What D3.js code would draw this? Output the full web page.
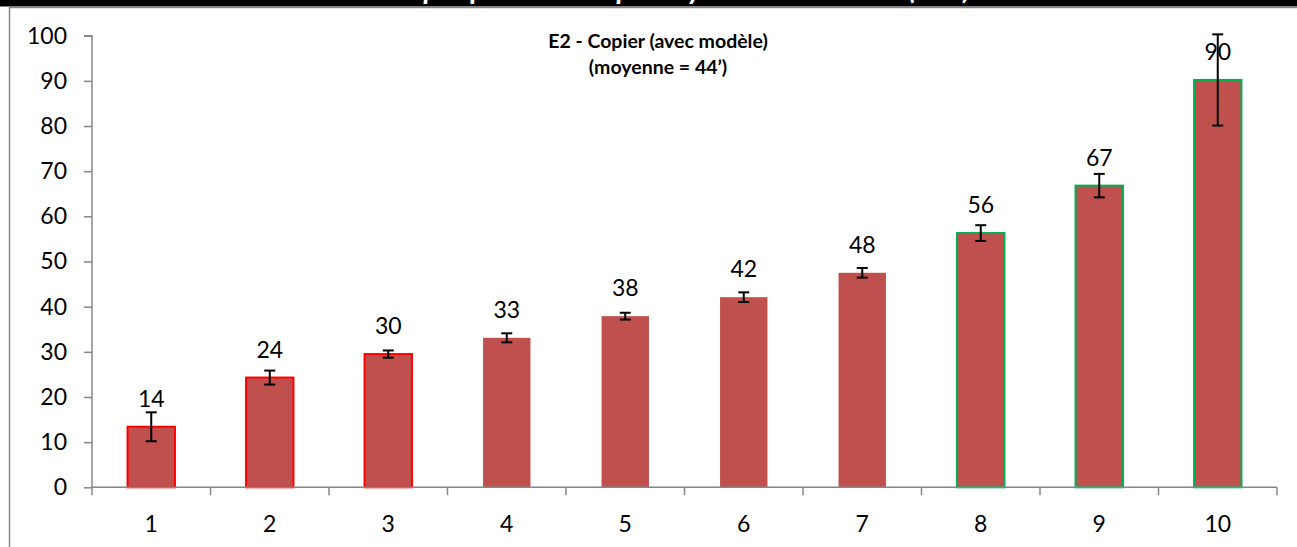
<!DOCTYPE html>
<html><head><meta charset="utf-8">
<script src="https://cdn.jsdelivr.net/npm/d3@7"></script>
<style>html,body{margin:0;padding:0;background:#fff;overflow:hidden;}</style>
</head><body>
<svg id="c" width="1297" height="547"></svg>
<script>
const categories = ["1","2","3","4","5","6","7","8","9","10"];
const values = [13.4, 24.3, 29.5, 33.1, 37.9, 42.1, 47.5, 56.3, 66.8, 90.2];
const errors = [3.2, 1.55, 0.8, 1.0, 0.75, 1.07, 1.07, 1.74, 2.6, 10.1];
const labels = ["14","24","30","33","38","42","48","56","67","90"];
const outlineGroup = ["red","red","red","none","none","none","none","green","green","green"];
const yTicks = [0,10,20,30,40,50,60,70,80,90,100];
const subtitleLines = ["E2 - Copier (avec modèle)", "(moyenne = 44’)"];
const pageTitle = "Graphique 38 : Temps moyen de réalisation (en s)";

const svg = d3.select("#c");
const font = "Lato, 'Open Sans', sans-serif";
const outlineColor = {red:"#FF0000", green:"#00B050", none:"none"};

// top black band with cut-off title
svg.append("rect").attr("x",0).attr("y",0).attr("width",1297).attr("height",6.5).attr("fill","#000");
svg.append("clipPath").attr("id","band").append("rect").attr("x",0).attr("y",0).attr("width",1297).attr("height",6.5);
svg.append("text").attr("clip-path","url(#band)").attr("x",675).attr("y",-1)
  .attr("text-anchor","middle").attr("fill","#fff").attr("font-family",font)
  .attr("font-size",29).attr("font-weight","bold").attr("font-style","italic").text(pageTitle);

// chart area border
svg.append("path").attr("d","M9.5,547 L9.5,7.5 L1297,7.5").attr("fill","none").attr("stroke","#888").attr("stroke-width",1.5);

const x0 = 92, x1 = 1277, yTop = 35.7, yBot = 487.3;
const x = d3.scaleBand().domain(categories).range([x0,x1]).paddingInner(0.6).paddingOuter(0.3);
const y = d3.scaleLinear().domain([0,100]).range([yBot,yTop]);

// y axis
const yAxis = d3.axisLeft(y).tickValues(yTicks).tickSize(8).tickPadding(17);
const gy = svg.append("g").attr("transform",`translate(${x0},0)`).call(yAxis);
gy.select(".domain").attr("stroke","#868686").attr("stroke-width",1.5).attr("d",`M-8,${y(100)}H0V${y(0)}`);
gy.selectAll(".tick line").attr("stroke","#868686").attr("stroke-width",1.5);
gy.selectAll(".tick text").attr("font-family",font).attr("font-size",23).attr("fill","#000");

// bars
svg.selectAll("rect.bar").data(values).enter().append("rect").attr("class","bar")
  .attr("x",(d,i)=>x(categories[i])).attr("width",x.bandwidth())
  .attr("y",d=>y(d)).attr("height",d=>y(0)-y(d))
  .attr("fill","#C0504D")
  .attr("stroke",(d,i)=>outlineColor[outlineGroup[i]])
  .attr("stroke-width",2);

// x axis
const xb = d3.scaleLinear().domain([0,categories.length]).range([x0,x1]);
const gx = svg.append("g");
gx.append("line").attr("x1",x0).attr("x2",x1).attr("y1",y(0)).attr("y2",y(0)).attr("stroke","#868686").attr("stroke-width",1.5);
gx.selectAll("line.t").data(d3.range(categories.length+1)).enter().append("line")
  .attr("x1",d=>xb(d)).attr("x2",d=>xb(d)).attr("y1",y(0)).attr("y2",y(0)+8)
  .attr("stroke","#868686").attr("stroke-width",1.5);
gx.selectAll("text").data(categories).enter().append("text")
  .attr("x",d=>x(d)+x.bandwidth()/2).attr("y",532).attr("text-anchor","middle")
  .attr("font-family",font).attr("font-size",23).attr("fill","#000").text(d=>d);

// error bars
const eb = svg.append("g").attr("stroke","#000").attr("stroke-width",2);
values.forEach((v,i)=>{
  const cx = x(categories[i])+x.bandwidth()/2;
  const hi = y(v+errors[i]), lo = y(v-errors[i]);
  eb.append("line").attr("x1",cx).attr("x2",cx).attr("y1",hi).attr("y2",lo);
  eb.append("line").attr("x1",cx-5.5).attr("x2",cx+5.5).attr("y1",hi).attr("y2",hi);
  eb.append("line").attr("x1",cx-5.5).attr("x2",cx+5.5).attr("y1",lo).attr("y2",lo);
});

// value labels
svg.selectAll("text.vl").data(values).enter().append("text").attr("class","vl")
  .attr("x",(d,i)=>x(categories[i])+x.bandwidth()/2)
  .attr("y",d=>Math.max(y(d)-20, y(100)-2.5))
  .attr("text-anchor","middle").attr("font-family",font).attr("font-size",23).attr("fill","#000")
  .text((d,i)=>labels[i]);

// inner title
const st = svg.append("text").attr("x",658).attr("text-anchor","middle")
  .attr("font-family",font).attr("font-size",19.5).attr("font-weight","bold").attr("fill","#000");
subtitleLines.forEach((t,i)=>st.append("tspan").attr("x",658).attr("y",i===0?48:74).text(t));
</script>
</body></html>
